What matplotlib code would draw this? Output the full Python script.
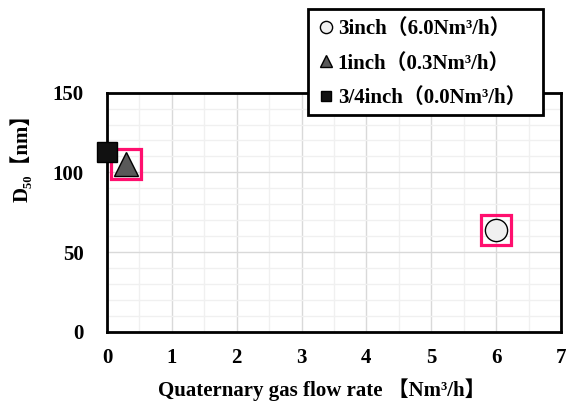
import matplotlib
matplotlib.use("Agg")
import matplotlib.pyplot as plt
from matplotlib.patches import Rectangle
from matplotlib.ticker import MultipleLocator

plt.rcParams['font.family'] = ['Liberation Serif', 'Noto Sans CJK JP', 'DejaVu Sans']
plt.rcParams['font.weight'] = 'bold'

# Series: nozzle size -> (quaternary gas flow rate, D50)
labels = ["3inch（6.0Nm³/h）", "1inch（0.3Nm³/h）", "3/4inch（0.0Nm³/h）"]
flow_rate = [6.0, 0.3, 0.0]
d50 = [64, 105, 113]
markers = ['o', '^', 's']
sizes = [16, 17, 14]
faces = ['#F0F0F0', '#595959', '#111111']
highlight = [True, True, False]

x_ticks = [0, 1, 2, 3, 4, 5, 6, 7]
y_ticks = [0, 50, 100, 150]

FS = 15

W, H = 566, 408
fig = plt.figure(figsize=(W / 100, H / 100), dpi=100)
ax = fig.add_axes([107 / W, 1 - 331.7 / H, 454 / W, 239 / H])

ax.set_xlim(0, 7)
ax.set_ylim(0, 150)
ax.set_xticks(x_ticks)
ax.set_yticks(y_ticks)
ax.xaxis.set_minor_locator(MultipleLocator(0.5))
ax.yaxis.set_minor_locator(MultipleLocator(10))
ax.grid(True, which='major', color='#D9D9D9', lw=1.0, zorder=0)
ax.grid(True, which='minor', color='#F0F0F0', lw=1.0, zorder=0)
ax.set_axisbelow(True)
ax.tick_params(which='both', length=0)
ax.tick_params(axis='x', pad=12, labelsize=FS)
ax.tick_params(axis='y', pad=17, labelsize=FS)
for lab in ax.get_xticklabels() + ax.get_yticklabels():
    lab.set_fontweight('bold')
for sp in ax.spines.values():
    sp.set_linewidth(2.0)
    sp.set_color('black')

handles = []
for x, y, m, s, fc, lab, hl in zip(flow_rate, d50, markers, sizes, faces, labels, highlight):
    h, = ax.plot([x], [y], linestyle='none', marker=m, markersize=s,
                 markerfacecolor=fc, markeredgecolor='black', markeredgewidth=1.0,
                 clip_on=False, zorder=5, label=lab)
    handles.append(h)
    if hl:
        ax.plot([x], [y], linestyle='none', marker='s', markersize=21,
                markerfacecolor='none', markeredgecolor='#FF0F6E',
                markeredgewidth=2.3, clip_on=False, zorder=4)

# Legend box drawn as a separate framed patch so its padding can be set freely
box = Rectangle((308 / W, 1 - 115 / H), 235 / W, 106 / H,
                transform=fig.transFigure, facecolor='white',
                edgecolor='black', lw=2.0, zorder=9)
fig.add_artist(box)

leg = fig.legend(handles=handles, loc='upper left',
                 bbox_to_anchor=(320 / W, 1 - 19 / H), markerscale=0.55,
                 prop={'size': FS, 'weight': 'bold'}, frameon=False,
                 handlelength=0.55, handletextpad=0.3, labelspacing=0.7,
                 borderpad=0.0, borderaxespad=0)
leg.set_zorder(10)

fig.text(322 / W, 1 - 390 / H, "Quaternary gas flow rate 【Nm³/h】",
         ha='center', va='center', fontsize=FS, fontweight='bold')
fig.text(22 / W, 1 - 153 / H, "D₅₀【nm】", rotation=90,
         ha='center', va='center', fontsize=FS, fontweight='bold')

fig.savefig("out.png", dpi=100)
